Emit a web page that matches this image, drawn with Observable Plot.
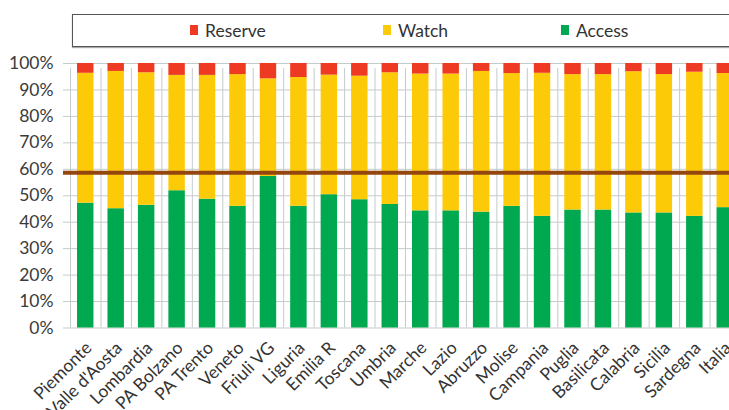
<!DOCTYPE html>
<html>
<head>
<meta charset="utf-8">
<script src="https://cdn.jsdelivr.net/npm/d3@7"></script>
<script src="https://cdn.jsdelivr.net/npm/@observablehq/plot@0.6"></script>
<style>
  html, body { margin: 0; padding: 0; background: #fff; overflow: hidden; width: 729px; height: 410px; }
  #wrap { position: relative; width: 729px; height: 410px; overflow: hidden; font-family: Lato, "Open Sans", sans-serif; }
  #legend { position: relative; height: 50px; }
  #legend .box { position: absolute; left: 72px; top: 14px; width: 700px; height: 31px; border: 1px solid #555; box-shadow: 0 1px 1px #aaa; }
  #legend .item { position: absolute; top: 20px; height: 20px; display: flex; align-items: center; font-size: 17.5px; color: #333; }
  #legend .sw { width: 8px; height: 10px; margin-right: 7px; }
</style>
</head>
<body>
<div id="wrap">
  <div id="legend"><div class="box"></div></div>
  <div id="chart"></div>
</div>
<script>
const categories = ["Piemonte", "Valle d'Aosta", "Lombardia", "PA Bolzano", "PA Trento", "Veneto", "Friuli VG", "Liguria", "Emilia R", "Toscana", "Umbria", "Marche", "Lazio", "Abruzzo", "Molise", "Campania", "Puglia", "Basilicata", "Calabria", "Sicilia", "Sardegna", "Italia"];
const access  = [47.2, 45.1, 46.4, 51.9, 48.7, 46.0, 57.3, 46.0, 50.4, 48.5, 46.7, 44.3, 44.3, 43.8, 46.0, 42.2, 44.6, 44.6, 43.5, 43.5, 42.2, 45.5];
const watch   = [49.1, 51.9, 50.1, 43.6, 46.8, 49.8, 36.9, 48.7, 45.2, 46.7, 49.8, 51.7, 51.7, 53.2, 50.2, 54.1, 51.2, 51.2, 53.4, 52.3, 54.5, 50.7];
const reserve = [3.7, 3.0, 3.5, 4.5, 4.5, 4.2, 5.8, 5.3, 4.4, 4.8, 3.5, 4.0, 4.0, 3.0, 3.8, 3.7, 4.2, 4.2, 3.1, 4.2, 3.3, 3.8];
const seriesNames = ["Access", "Watch", "Reserve"];
const seriesColors = ["#00A84F", "#FDCA08", "#EE3A23"];
const legendOrder = ["Reserve", "Watch", "Access"];
const yTicks = [0, 10, 20, 30, 40, 50, 60, 70, 80, 90, 100];
const threshold = 58.7;

// legend
const legendX = {Reserve: 190, Watch: 383, Access: 561};
const legend = document.getElementById("legend");
legendOrder.forEach(name => {
  const it = document.createElement("div");
  it.className = "item";
  it.style.left = legendX[name] + "px";
  const sw = document.createElement("span");
  sw.className = "sw";
  sw.style.background = seriesColors[seriesNames.indexOf(name)];
  it.appendChild(sw);
  it.appendChild(document.createTextNode(name));
  legend.appendChild(it);
});

const table = [];
categories.forEach((c, i) => {
  table.push({region: c, series: "Access", value: access[i]});
  table.push({region: c, series: "Watch", value: watch[i]});
  table.push({region: c, series: "Reserve", value: reserve[i]});
});

const xRange = [70, 740];
const halfStep = (xRange[1] - xRange[0]) / categories.length / 2;
const gridColor = "#c4cbcb";

const chart = Plot.plot({
  width: 729,
  height: 360,
  marginTop: 13,
  marginBottom: 82.5,
  marginLeft: 63,
  marginRight: 0,
  style: {fontFamily: "Lato, 'Open Sans', sans-serif", fontSize: "17.5px", color: "#3a3a3a", background: "#fff", maxWidth: "none", overflow: "hidden"},
  x: {domain: categories, range: xRange, padding: 0, round: false, axis: null},
  y: {domain: [0, 100], axis: null},
  color: {domain: seriesNames, range: seriesColors},
  marks: [
    Plot.gridY(yTicks, {stroke: gridColor, strokeOpacity: 1, strokeWidth: 1}),
    Plot.ruleX(categories, {x: d => d, y1: 0, y2: 100, dx: -halfStep, stroke: gridColor, insetBottom: -5}),
    Plot.axisY(yTicks, {label: null, tickSize: 0, tickPadding: 10, tickFormat: d => d + "%", fontSize: 17.5, fill: "#3a3a3a"}),
    Plot.barY(table, {x: "region", y: "value", fill: "series", insetLeft: 7, insetRight: 7}),
    Plot.ruleY([threshold], {stroke: "#94460F", strokeWidth: 4}),
    Plot.text(categories, {x: d => d, y: 0, text: d => d, rotate: -45, textAnchor: "end", lineAnchor: "bottom", dx: 7, dy: 21, fontSize: 17.5, fill: "#333"})
  ]
});
document.getElementById("chart").appendChild(chart);
</script>
</body>
</html>
